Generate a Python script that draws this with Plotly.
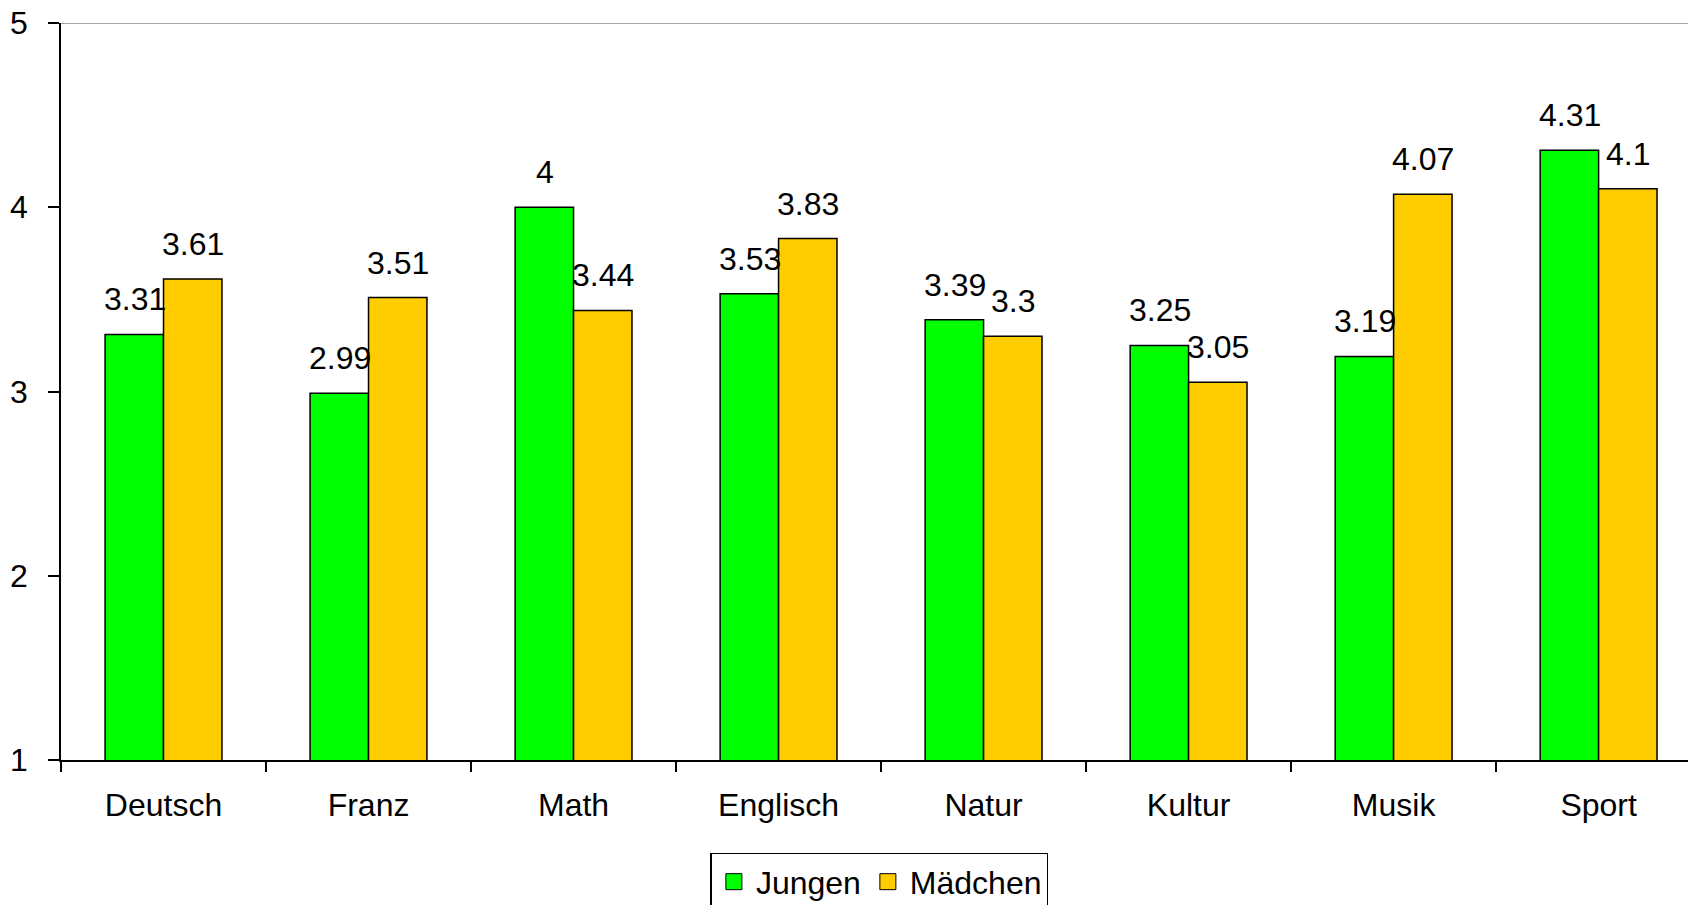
import plotly.graph_objects as go

faecher = ["Deutsch", "Franz", "Math", "Englisch", "Natur", "Kultur", "Musik", "Sport"]
jungen = [3.31, 2.99, 4, 3.53, 3.39, 3.25, 3.19, 4.31]
maedchen = [3.61, 3.51, 3.44, 3.83, 3.3, 3.05, 4.07, 4.1]
y_ticks = [1, 2, 3, 4, 5]

GRUEN = "#00FF00"
GELB = "#FFCC00"
FONT = "Liberation Sans, Arial, sans-serif"

fig = go.Figure()
fig.add_bar(x=faecher, y=jungen, name="Jungen", marker=dict(color=GRUEN, line=dict(color="black", width=1.5)),
            showlegend=False)
fig.add_bar(x=faecher, y=maedchen, name="Mädchen", marker=dict(color=GELB, line=dict(color="black", width=1.5)),
            showlegend=False)

# legend entries with bigger squares
for name, col in [("Jungen", GRUEN), ("Mädchen", GELB)]:
    fig.add_scatter(x=[None], y=[None], mode="markers", name=name,
                    marker=dict(symbol="square", size=16, color=col, line=dict(color="black", width=1)))

# value labels above each bar
for serie, shift in [(jungen, -29), (maedchen, 29)]:
    for f, v in zip(faecher, serie):
        fig.add_annotation(x=f, y=v, text=f"{v:g}", showarrow=False, xshift=shift, yshift=15,
                           yanchor="bottom", font=dict(size=32, color="black", family=FONT))

# grey line along the top of the plot area
fig.add_shape(type="line", xref="paper", yref="y", x0=0, x1=1, y0=5, y1=5,
              line=dict(color="#888888", width=1.5))

fig.update_layout(
    width=1688, height=905,
    margin=dict(l=61, r=0, t=23, b=145, autoexpand=False),
    plot_bgcolor="white", paper_bgcolor="white",
    barmode="group", bargap=0.43, bargroupgap=0,
    font=dict(family=FONT, size=32, color="black"),
    legend=dict(orientation="h", x=0.503, xanchor="center", y=-0.126, yanchor="top",
                bordercolor="black", borderwidth=1.5, font=dict(size=32),
                itemwidth=34, tracegroupgap=0),
)
fig.update_xaxes(range=[-0.5, 7.436], showline=True, linecolor="black", linewidth=1.5,
                 ticks="outside", tickson="boundaries", ticklen=10, tickcolor="black", tickwidth=1.5,
                 showgrid=False, ticklabelstandoff=16, automargin=False)
fig.update_yaxes(range=[1, 5], tickvals=y_ticks, showline=True, linecolor="black", linewidth=1.5,
                 ticks="outside", ticklen=11, tickcolor="black", tickwidth=1.5,
                 showgrid=False, zeroline=False, ticklabelstandoff=14, automargin=False)

# drop the default body margin so the figure sits at the window corner
fig.write_html("out.html", config={"displayModeBar": False},
               post_script="document.body.style.margin='0';document.body.style.overflow='hidden';")
